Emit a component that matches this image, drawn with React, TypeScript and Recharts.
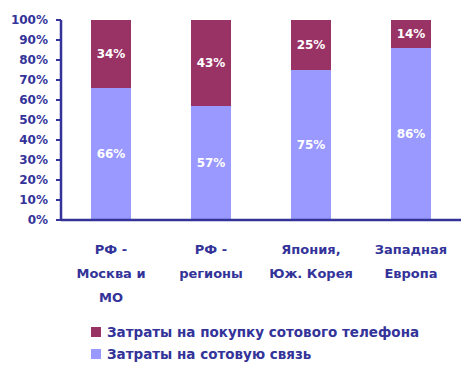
import React from 'react';
import { BarChart, Bar, XAxis, YAxis, Legend, LabelList } from 'recharts';

const categories = ['РФ -\nМосква и\nМО', 'РФ -\nрегионы', 'Япония,\nЮж. Корея', 'Западная\nЕвропа'];
const serviceCost = [66, 57, 75, 86];
const phoneCost = [34, 43, 25, 14];
const yTicks = [0, 10, 20, 30, 40, 50, 60, 70, 80, 90, 100];
const boundaryTicks = [0, 1, 2, 3, 4];
const seriesNames = ['Затраты на покупку сотового телефона', 'Затраты на сотовую связь'];
const seriesColors = ['#993366', '#9999FF'];

const data = categories.map((c, i) => ({ name: c, service: serviceCost[i], phone: phoneCost[i] }));

const AXIS = '#333399';
const FONT = '"DejaVu Sans", sans-serif';

const CategoryTick = (props: any) => {
  const { x, y, payload } = props;
  const lines = String(payload.value).split('\n');
  return (
    <text x={x} y={y} textAnchor="middle" fill={AXIS} fontFamily={FONT} fontWeight="bold" fontSize={13}>
      {lines.map((l, i) => (
        <tspan key={i} x={x} dy={i === 0 ? 29 : 24}>{l}</tspan>
      ))}
    </text>
  );
};

const LegendContent = () => (
  <div style={{ fontFamily: FONT, fontWeight: 'bold', fontSize: 13.5, color: AXIS }}>
    {seriesNames.map((n, i) => (
      <div key={n} style={{ display: 'flex', alignItems: 'center', height: 22 }}>
        <span style={{ display: 'inline-block', width: 10, height: 10, background: seriesColors[i], marginRight: 6 }} />
        <span>{n}</span>
      </div>
    ))}
  </div>
);

const pct = (v: any) => `${v}%`;

export default function App() {
  return (
    <div style={{ position: 'absolute', left: 0, top: 0, width: 474, height: 370, background: '#fff' }}>
      <BarChart width={474} height={370} data={data} margin={{ top: 20, right: 13, left: 0, bottom: 0 }} barCategoryGap={60}>
        <XAxis
          xAxisId="a"
          type="number"
          domain={[0, 4]}
          ticks={boundaryTicks}
          allowDataOverflow
          tick={false}
          height={5}
          tickSize={5}
          axisLine={{ stroke: AXIS, strokeWidth: 2.5 }}
          tickLine={{ stroke: AXIS, strokeWidth: 2 }}
        />
        <XAxis
          xAxisId="z"
          dataKey="name"
          height={145}
          axisLine={false}
          tickLine={false}
          tickSize={0}
          tickMargin={0}
          interval={0}
          tick={<CategoryTick />}
        />
        <YAxis
          width={61}
          domain={[0, 100]}
          ticks={yTicks}
          tickFormatter={pct}
          interval={0}
          tickSize={5}
          tickMargin={8}
          axisLine={{ stroke: AXIS, strokeWidth: 2.5 }}
          tickLine={{ stroke: AXIS, strokeWidth: 2 }}
          tick={{ fill: AXIS, fontFamily: FONT, fontWeight: 'bold', fontSize: 12 }}
        />
        <Legend
          layout="horizontal"
          verticalAlign="middle"
          align="center"
          content={<LegendContent />}
          wrapperStyle={{ top: 321, left: 91, width: 'auto', height: 'auto' }}
        />
        <Bar xAxisId="z" dataKey="service" stackId="a" fill={seriesColors[1]} barSize={40} isAnimationActive={false} name={seriesNames[1]}>
          <LabelList dataKey="service" position="center" formatter={pct} fill="#fff" fontFamily={FONT} fontWeight="bold" fontSize={12} />
        </Bar>
        <Bar xAxisId="z" dataKey="phone" stackId="a" fill={seriesColors[0]} barSize={40} isAnimationActive={false} name={seriesNames[0]}>
          <LabelList dataKey="phone" position="center" formatter={pct} fill="#fff" fontFamily={FONT} fontWeight="bold" fontSize={12} />
        </Bar>
      </BarChart>
    </div>
  );
}
